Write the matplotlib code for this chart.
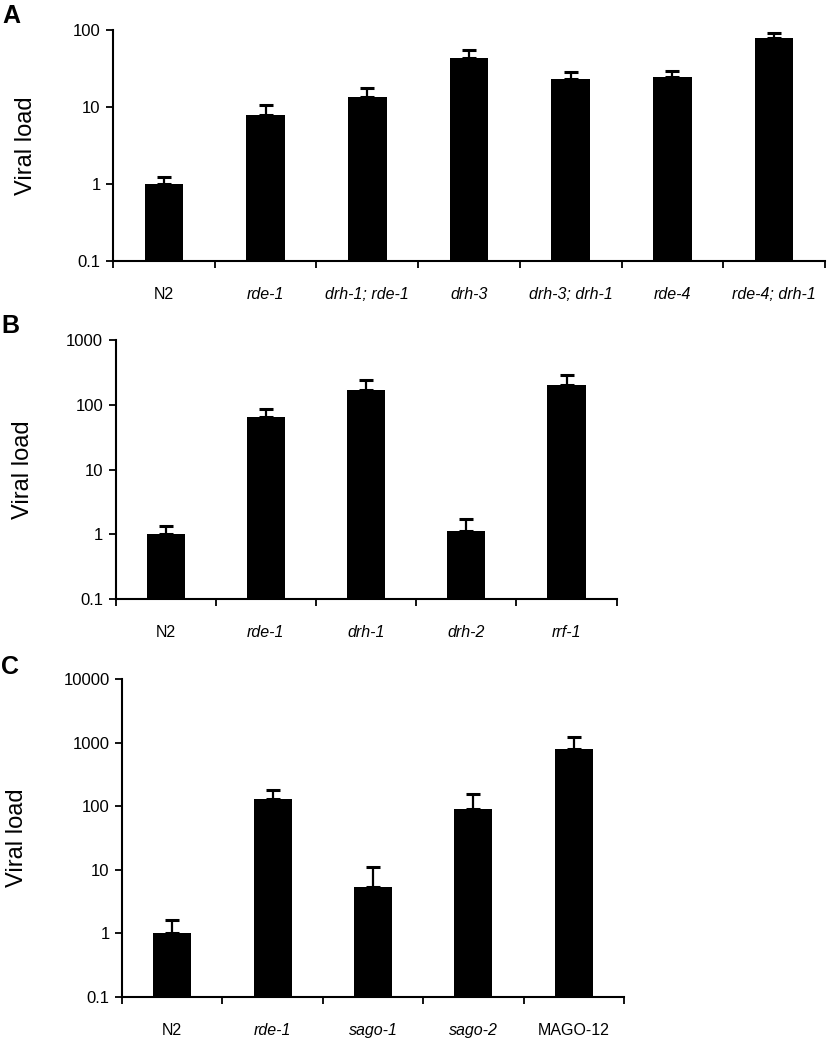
import numpy as np
import matplotlib
matplotlib.use("Agg")
from matplotlib import pyplot as plt
from matplotlib.ticker import FixedLocator, NullLocator

# panel A
a_names = ['N2', 'rde-1', 'drh-1; rde-1', 'drh-3', 'drh-3; drh-1', 'rde-4', 'rde-4; drh-1']
a_vals = [1.0, 7.9, 13.4, 43.0, 23.1, 24.3, 78.7]
a_err_top = [1.23, 10.7, 17.6, 55.6, 28.2, 29.6, 91.5]

# panel B
b_names = ['N2', 'rde-1', 'drh-1', 'drh-2', 'rrf-1']
b_vals = [1.0, 63.7, 169, 1.11, 201]
b_err_top = [1.35, 85.7, 244, 1.75, 288]

# panel C
c_names = ['N2', 'rde-1', 'sago-1', 'sago-2', 'MAGO-12']
c_vals = [1.0, 132, 5.4, 89, 787]
c_err_top = [1.62, 179, 11, 155, 1245]

upright = {'N2', 'MAGO-12'}
tick_font = ['Liberation Sans', 'DejaVu Sans']

fig = plt.figure(figsize=(8.3, 10.42), dpi=100)


def panel(rect, names, vals, err_top, ymax, letter, letter_xy, ylab_x):
    ax = fig.add_axes(rect)
    x = np.arange(len(names))
    vals = np.array(vals, dtype=float)
    err = np.array(err_top) - vals
    ax.bar(x, vals, width=0.38, color='black', zorder=2)
    ax.errorbar(x, vals, yerr=[np.zeros_like(err), err], fmt='none',
                ecolor='black', elinewidth=1.6, capsize=5, capthick=2.2, zorder=3)
    ax.set_yscale('log')
    ax.set_ylim(0.1, ymax)
    ax.set_xlim(-0.5, len(names) - 0.5)
    decades = [10.0 ** k for k in range(-1, int(round(np.log10(ymax))) + 1)]
    ax.yaxis.set_major_locator(FixedLocator(decades))
    ax.yaxis.set_minor_locator(NullLocator())
    ax.set_yticklabels(['0.1'] + [str(int(d)) for d in decades[1:]],
                       fontfamily=tick_font, fontsize=12)
    ax.set_xticks(np.arange(len(names) + 1) - 0.5)
    ax.set_xticklabels([])
    ax.set_xticks(x, minor=True)
    ax.set_xticklabels(names, minor=True, fontfamily=tick_font, fontsize=11.5)
    for lab in ax.get_xticklabels(minor=True):
        if lab.get_text() not in upright:
            lab.set_style('italic')
    ax.tick_params(axis='x', which='minor', length=0, pad=19)
    ax.tick_params(axis='x', which='major', length=5, width=1.3, direction='out')
    ax.tick_params(axis='y', length=5, width=1.3, direction='out', pad=4)
    for s in ['top', 'right']:
        ax.spines[s].set_visible(False)
    for s in ['left', 'bottom']:
        ax.spines[s].set_linewidth(1.5)
    ax.set_ylabel('Viral load', fontsize=17, fontfamily='Liberation Sans')
    ax.yaxis.set_label_coords(ylab_x, 0.5)
    fig.text(letter_xy[0], letter_xy[1], letter, fontsize=18, fontweight='bold',
             fontfamily='Liberation Sans', ha='left', va='top')
    return ax


W, H = 830.0, 1042.0
panel([113 / W, 1 - 261 / H, 712 / W, 231 / H], a_names, a_vals, a_err_top, 100,
      'A', (2 / W, 1 - 4 / H), -0.107)
panel([115.6 / W, 1 - 599 / H, 501 / W, 259 / H], b_names, b_vals, b_err_top, 1000,
      'B', (1 / W, 1 - 314 / H), -0.162)
panel([122 / W, 1 - 997 / H, 502 / W, 318 / H], c_names, c_vals, c_err_top, 10000,
      'C', (1 / W, 1 - 655 / H), -0.187)

fig.savefig('out.png', dpi=100)
